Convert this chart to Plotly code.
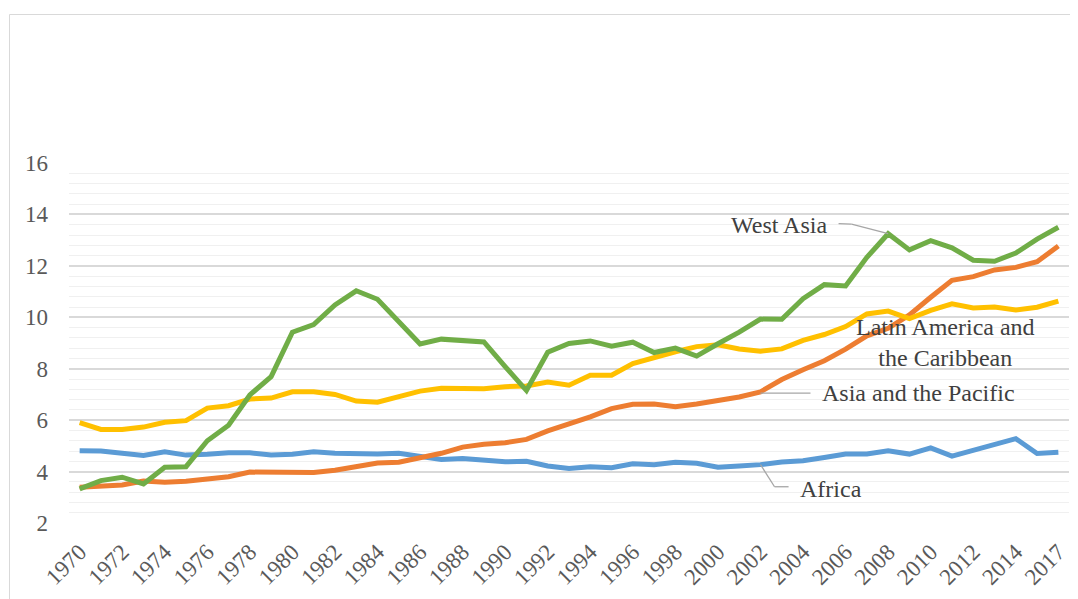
import plotly.graph_objects as go

years = [str(y) for y in range(1970, 2016)] + ["2017"]

africa = [4.81, 4.80, 4.71, 4.63, 4.77, 4.64, 4.67, 4.73, 4.73, 4.64,
          4.67, 4.77, 4.71, 4.69, 4.68, 4.71, 4.60, 4.47, 4.51, 4.45,
          4.38, 4.40, 4.22, 4.12, 4.19, 4.15, 4.30, 4.27, 4.36, 4.32,
          4.17, 4.22, 4.27, 4.37, 4.42, 4.55, 4.68, 4.68, 4.81, 4.68,
          4.92, 4.60, 4.84, 5.04, 5.28, 4.70, 4.75]

asia_pacific = [3.39, 3.44, 3.48, 3.63, 3.58, 3.62, 3.69, 3.80, 3.98, 3.97,
                3.93, 3.96, 4.05, 4.20, 4.33, 4.36, 4.55, 4.71, 4.95, 5.06,
                5.12, 5.25, 5.58, 5.84, 6.13, 6.45, 6.62, 6.63, 6.52, 6.63,
                6.78, 6.90, 7.10, 7.58, 7.96, 8.31, 8.76, 9.28, 9.57, 10.09,
                10.78, 11.44, 11.58, 11.84, 11.94, 12.16, 12.77]

latin_america = [5.90, 5.64, 5.64, 5.73, 5.92, 5.98, 6.47, 6.56, 6.82, 6.86,
                 7.10, 7.10, 7.00, 6.74, 6.70, 6.90, 7.13, 7.24, 7.24, 7.22,
                 7.30, 7.33, 7.48, 7.36, 7.75, 7.75, 8.20, 8.44, 8.66, 8.86,
                 8.93, 8.77, 8.68, 8.77, 9.10, 9.33, 9.64, 10.13, 10.24, 9.95,
                 10.27, 10.52, 10.36, 10.40, 10.28, 10.39, 10.63]

west_asia = [3.33, 3.65, 3.78, 3.52, 4.17, 4.19, 5.20, 5.80, 6.98, 7.69,
             9.42, 9.72, 10.48, 11.03, 10.70, 9.80, 8.96, 9.15, 9.08, 9.04,
             8.08, 7.15, 8.64, 8.98, 9.08, 8.88, 9.03, 8.63, 8.80, 8.49,
             8.97, 9.42, 9.93, 9.92, 10.72, 11.27, 11.22, 12.33, 13.25, 12.62,
             12.98, 12.70, 12.22, 12.18, 12.50, 13.04, 13.50]

tick_years = years[::2]
y_ticks = [2, 4, 6, 8, 10, 12, 14, 16]

FONT = "Liberation Serif, Times New Roman, serif"

fig = go.Figure()
series = [
    ("Africa", africa, "#5b9bd5"),
    ("Asia and the Pacific", asia_pacific, "#ed7d31"),
    ("Latin America and the Caribbean", latin_america, "#ffc000"),
    ("West Asia", west_asia, "#70ad47"),
]
for name, vals, col in series:
    fig.add_trace(go.Scatter(x=years, y=vals, name=name, mode="lines",
                             line=dict(color=col, width=5),
                             hoverinfo="skip"))

lead = dict(color="#a6a6a6", width=1.3)
i08 = years.index("2008")
i02 = years.index("2002")
# West Asia leader
fig.add_shape(type="line", xref="x", yref="y", x0=35.67, y0=13.64, x1=36.28, y1=13.62, line=lead)
fig.add_shape(type="line", xref="x", yref="y", x0=36.28, y0=13.62, x1=i08, y1=west_asia[i08], line=lead)
# Asia and the Pacific leader
fig.add_shape(type="line", xref="x", yref="y", x0=i02, y0=asia_pacific[i02] - 0.05, x1=34.35, y1=asia_pacific[i02] - 0.05, line=lead)
# Africa leader
fig.add_shape(type="line", xref="x", yref="y", x0=i02, y0=africa[i02], x1=32.66, y1=3.41, line=lead)
fig.add_shape(type="line", xref="x", yref="y", x0=32.66, y0=3.41, x1=33.32, y1=3.41, line=lead)

afont = dict(family=FONT, size=24, color="#404040")
fig.add_annotation(x=35.2, y=13.6, xref="x", yref="y", text="West Asia", showarrow=False,
                   xanchor="right", yanchor="middle", font=afont)
fig.add_annotation(x=40.7, y=9.02, xref="x", yref="y", text="Latin America and<br>the Caribbean",
                   showarrow=False, xanchor="center", yanchor="middle", align="center", font=afont)
fig.add_annotation(x=34.8, y=7.05, xref="x", yref="y", text="Asia and the Pacific", showarrow=False,
                   xanchor="left", yanchor="middle", font=afont)
fig.add_annotation(x=33.78, y=3.33, xref="x", yref="y", text="Africa", showarrow=False,
                   xanchor="left", yanchor="middle", font=afont)

# chart frame
fig.add_shape(type="rect", xref="paper", yref="paper", x0=-0.0595, y0=-0.5, x1=1.2, y1=1.4125,
              line=dict(color="#d9d9d9", width=1), layer="below")

tfont = dict(family=FONT, size=23, color="#595959")
fig.update_layout(
    width=1070, height=591,
    margin=dict(l=61, r=9, t=155, b=76, autoexpand=False),
    paper_bgcolor="white", plot_bgcolor="white",
    showlegend=False,
    hovermode=False,
    font=dict(family=FONT, size=23, color="#595959"),
    xaxis=dict(type="category", tickmode="array", tickvals=tick_years, ticktext=tick_years,
               tickangle=-45, showgrid=False, showline=False, zeroline=False,
               ticks="", ticklabelstandoff=10, automargin=False,
               tickfont=tfont,
               range=[-0.5, len(years) - 0.5]),
    yaxis=dict(range=[2, 16], tickmode="array", tickvals=y_ticks,
               showgrid=True, gridcolor="#d9d9d9", gridwidth=1.5,
               minor=dict(dtick=0.4, showgrid=True, gridcolor="#f0f0f0", gridwidth=1.2),
               zeroline=False, showline=False, ticks="", ticklabelstandoff=20,
               automargin=False,
               tickfont=tfont),
)

fig.write_html("out.html")
